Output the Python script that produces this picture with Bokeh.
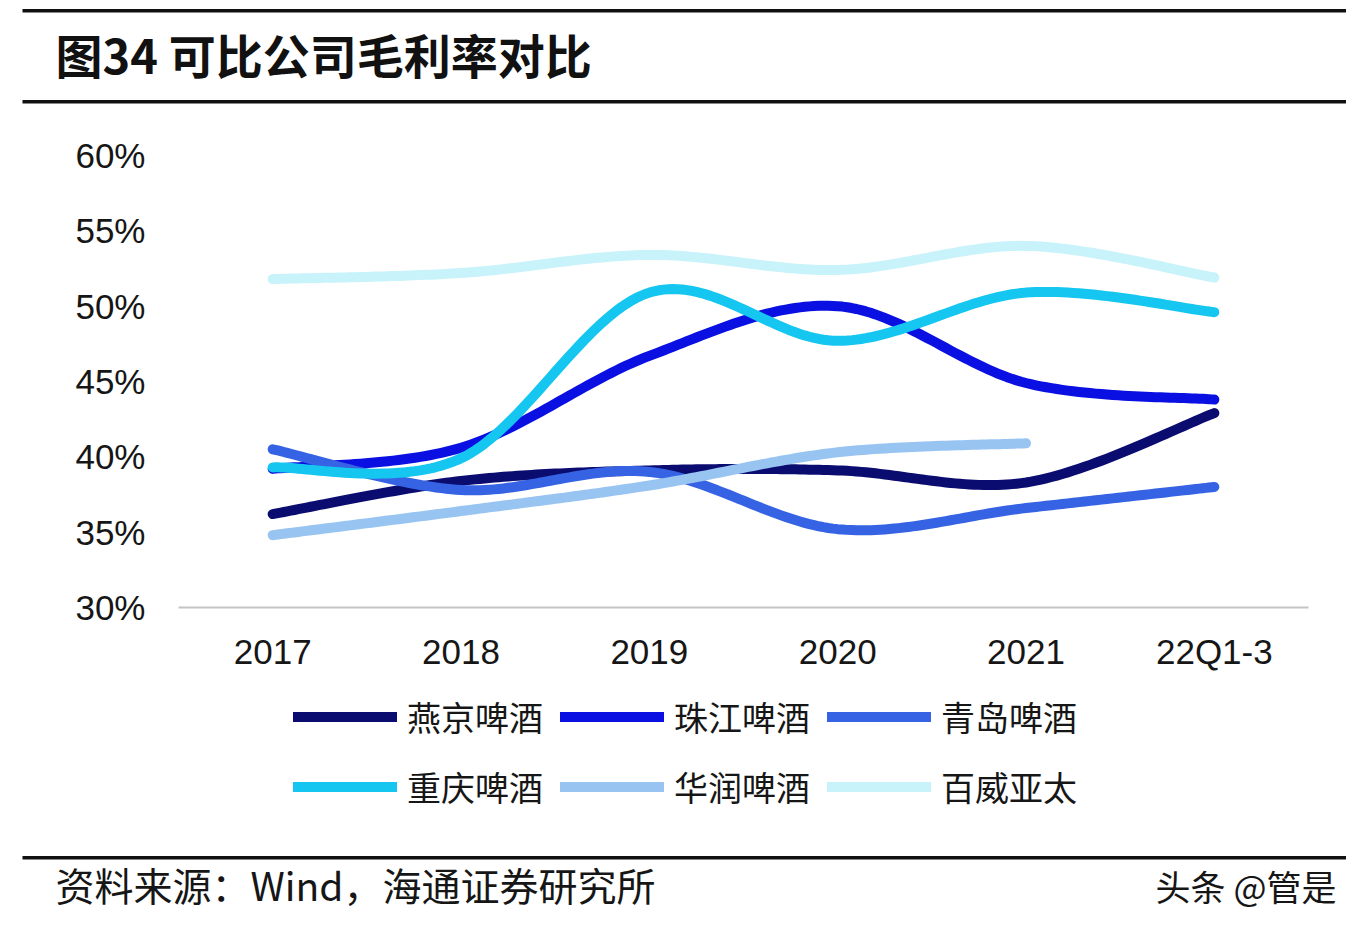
import numpy as np
from bokeh.plotting import figure
from bokeh.models import (FixedTicker, NumeralTickFormatter, Label, BoxAnnotation,
                          Legend, LegendItem, Range1d, ColumnDataSource, LinearAxis)
from bokeh.embed import file_html
from bokeh.resources import INLINE

# ---------------- data ----------------
categories = ["2017", "2018", "2019", "2020", "2021", "22Q1-3"]
yanjing = [36.2, 38.4, 39.1, 39.1, 38.3, 42.9]      # 燕京啤酒
zhujiang = [39.2, 40.6, 46.7, 50.0, 44.9, 43.8]     # 珠江啤酒
qingdao = [40.5, 37.8, 39.0, 35.2, 36.6, 38.0]      # 青岛啤酒
chongqing = [39.3, 39.9, 50.9, 47.7, 50.9, 49.6]    # 重庆啤酒
huarun = [34.8, 36.4, 38.1, 40.3, 40.9]             # 华润啤酒 (no 22Q1-3)
baiwei = [51.8, 52.2, 53.4, 52.4, 54.0, 51.9]       # 百威亚太
series_names = ["燕京啤酒", "珠江啤酒", "青岛啤酒", "重庆啤酒", "华润啤酒", "百威亚太"]
series_values = [yanjing, zhujiang, qingdao, chongqing, huarun, baiwei]
y_ticks = [0.30, 0.35, 0.40, 0.45, 0.50, 0.55, 0.60]

title_text = "图34 可比公司毛利率对比"
source_text = "资料来源：Wind，海通证券研究所"
watermark_text = "头条 @管是"

# ---------------- style ----------------
colors = ["#0a0c70", "#0a10e2", "#3663e4", "#14c6f0", "#98c4f2", "#c9f3fa"]
LINE_W = 10
CJK = "Noto Sans CJK SC"
LAT = "Liberation Sans"
INK = "#161616"

W, H = 1346, 916
PLOT_L, PLOT_R, PLOT_T, PLOT_B = 178, 1308, 155, 607   # pixel box of the data area


def dx(X):
    return -0.5 + (X - PLOT_L) / ((PLOT_R - PLOT_L) / 6.0)


def dy(Y):
    return 0.30 + (PLOT_B - Y) / (PLOT_B - PLOT_T) * 0.30


def smooth(vals, n=40):
    pts = [(float(i), v / 100.0) for i, v in enumerate(vals)]
    m = len(pts)
    xs, ys = [], []
    for i in range(m - 1):
        p0 = pts[i - 1] if i > 0 else pts[i]
        p1 = pts[i]
        p2 = pts[i + 1]
        p3 = pts[i + 2] if i + 2 < m else pts[i + 1]
        c1 = (p1[0] + (p2[0] - p0[0]) / 6, p1[1] + (p2[1] - p0[1]) / 6)
        c2 = (p2[0] - (p3[0] - p1[0]) / 6, p2[1] - (p3[1] - p1[1]) / 6)
        t = np.linspace(0, 1, n, endpoint=(i == m - 2))
        a = (1 - t) ** 3
        b = 3 * (1 - t) ** 2 * t
        c = 3 * (1 - t) * t ** 2
        d = t ** 3
        xs.extend(a * p1[0] + b * c1[0] + c * c2[0] + d * p2[0])
        ys.extend(a * p1[1] + b * c1[1] + c * c2[1] + d * p2[1])
    return xs, ys


p = figure(width=W, height=H, output_backend="svg", toolbar_location=None,
           x_range=Range1d(dx(0), dx(W)), y_range=Range1d(dy(H), dy(0)),
           x_axis_location=None, y_axis_location=None,
           min_border_left=0, min_border_right=0, min_border_top=0, min_border_bottom=0)
p.background_fill_color = "white"
p.border_fill_color = "white"
p.outline_line_color = None
p.grid.visible = False

# x axis (fixed on the 30% baseline)
xaxis = LinearAxis(fixed_location=0.30, bounds=(dx(PLOT_L), dx(PLOT_R)))
xaxis.ticker = FixedTicker(ticks=list(range(len(categories))))
xaxis.major_label_overrides = {i: c for i, c in enumerate(categories)}
xaxis.axis_line_color = "#c4c4c4"
xaxis.axis_line_width = 2
xaxis.major_tick_line_color = None
xaxis.minor_tick_line_color = None
xaxis.major_label_text_font = LAT
xaxis.major_label_text_font_size = "35px"
xaxis.major_label_text_color = INK
xaxis.major_label_standoff = 18
p.add_layout(xaxis, "below")

# y axis (fixed at the left edge of the data area)
yaxis = LinearAxis(fixed_location=dx(PLOT_L), bounds=(0.30, 0.60))
yaxis.ticker = FixedTicker(ticks=y_ticks)
yaxis.formatter = NumeralTickFormatter(format="0%")
yaxis.axis_line_color = None
yaxis.major_tick_line_color = None
yaxis.minor_tick_line_color = None
yaxis.major_label_text_font = LAT
yaxis.major_label_text_font_size = "35px"
yaxis.major_label_text_color = INK
yaxis.major_label_standoff = 27
p.add_layout(yaxis, "left")

items = []
for name, vals, col in zip(series_names, series_values, colors):
    xs, ys = smooth(vals)
    src = ColumnDataSource(dict(x=xs, y=ys))
    r = p.line("x", "y", source=src, line_color=col, line_width=LINE_W, line_cap="round",
               line_join="round")
    items.append(LegendItem(label=name, renderers=[r]))

legend = Legend(items=items, orientation="horizontal", ncols=3,
                location=(293, H - 813),
                glyph_width=104, glyph_height=53, label_standoff=10, spacing=17,
                padding=0, margin=0, border_line_color=None, background_fill_alpha=0,
                label_text_font=CJK, label_text_font_size="34px", label_text_color=INK)
p.add_layout(legend, "center")

# header / footer rules
for top, bottom in [(8.5, 12), (99.5, 103), (855.5, 859)]:
    p.add_layout(BoxAnnotation(left=dx(22), right=dx(W + 20), top=dy(top), bottom=dy(bottom),
                               fill_color="#111111", fill_alpha=1, line_color=None))

p.add_layout(Label(x=dx(55), y=dy(53), text=title_text, text_font=CJK, text_font_style="bold",
                   text_font_size="47px", text_color="#111111", text_baseline="middle",
                   text_align="left"))
p.add_layout(Label(x=dx(55), y=dy(883), text=source_text, text_font=CJK,
                   text_font_size="39px", text_color=INK, text_baseline="middle",
                   text_align="left"))
p.add_layout(Label(x=dx(1336), y=dy(885), text=watermark_text, text_font=CJK,
                   text_font_size="35px", text_color=INK, text_baseline="middle",
                   text_align="right"))

open("out.html", "w").write(file_html(p, INLINE))
